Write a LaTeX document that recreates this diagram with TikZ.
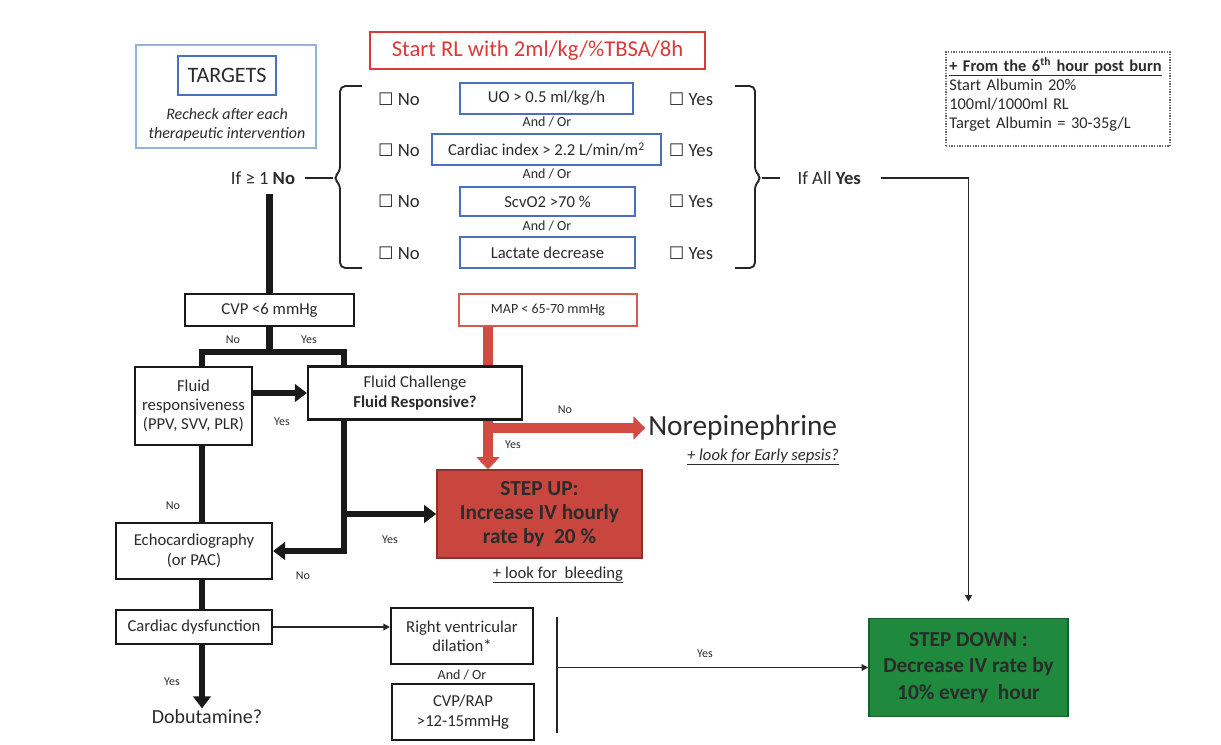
\documentclass[tikz,border=0pt]{standalone}
\usepackage{fontspec}
\setmainfont{Carlito}
\newfontfamily\symfont{DejaVu Sans}
\usetikzlibrary{arrows.meta,calc,positioning,backgrounds}
\definecolor{txtgray}{HTML}{2B2B2B}
\definecolor{startred}{HTML}{D93A3A}
\definecolor{mapred}{HTML}{D45A55}
\definecolor{flowred}{HTML}{D24B43}
\definecolor{upred}{HTML}{C9463F}
\definecolor{downgreen}{HTML}{1F8A3E}
\definecolor{tgtblue}{HTML}{4A6FBF}
\definecolor{tgtlight}{HTML}{93B3DA}
\newcommand{\fsz}[2]{\fontsize{#1}{#2}\selectfont}
\newcommand{\tickbox}{{\symfont\fsz{13}{15}☐}}

\begin{document}
\begin{tikzpicture}[x=0.75pt,y=-0.75pt,
  txt/.style={text=txtgray,font=\fsz{12.5}{14.5},align=center,inner sep=1pt},
  box/.style={txt,draw=black!90,line width=1.6pt,fill=white},
  tbox/.style={txt,draw=tgtblue,line width=1.4pt,fill=white},
  chk/.style={text=txtgray,font=\fsz{14}{16},inner sep=1pt},
  small/.style={text=txtgray,font=\fsz{9}{10},inner sep=1pt},
  andor/.style={text=txtgray,font=\fsz{10.5}{12},inner sep=0pt},
  fat/.style={line width=5pt,black!90},
  fatarrow/.style={fat,-{Triangle[length=9pt,width=13pt]}},
  redarrow/.style={line width=7pt,flowred,-{Triangle[length=9pt,width=17pt]}},
  thinarrow/.style={line width=1.2pt,black!85,-{Triangle[length=5pt,width=5pt]}},
  brc/.style={line width=1.4pt,black!85,rounded corners=4pt}]
  \useasboundingbox (0,0) rectangle (1221,744);

  \node[draw=startred,line width=1.3pt,text=startred,font=\fsz{17}{20},minimum width=251pt,minimum height=27.75pt,inner sep=1pt] (start) at (537.5,50.5) {Start RL with 2ml/kg/\%TBSA/8h};

  \node[draw=tgtlight,line width=1pt,minimum width=135pt,minimum height=77.25pt] (tgtframe) at (226,96.5) {};
  \node[tbox,font=\fsz{16.5}{18},minimum width=73.5pt,minimum height=29.25pt] (tgt) at (227,75.5) {TARGETS};
  \node[txt,font=\itshape\fsz{12}{14.25},below=8pt of tgt] (recheck) {Recheck after each\\therapeutic intervention};

  \node[txt,font=\fsz{14}{16}] (ifno) at (263,178) {If ≥ 1 \textbf{No}};
  \node[txt,font=\fsz{14}{16},anchor=west] (ifyes) at (796,178) {If All \textbf{Yes}};

  \node[tbox,minimum width=129.75pt,minimum height=23.25pt] (uo) at (546.5,98.5) {UO > 0.5 ml/kg/h};
  \node[tbox,minimum width=171.75pt,minimum height=23.25pt] (ci) at (546.5,149.5) {Cardiac index > 2.2 L/min/m\textsuperscript{2}};
  \node[tbox,minimum width=131.25pt,minimum height=21.75pt] (scv) at (547.5,201.5) {ScvO2 >70 \%};
  \node[tbox,minimum width=131.25pt,minimum height=23.25pt] (lac) at (547.5,252.5) {Lactate decrease};
  \node[andor] (ao1) at (547,122) {And / Or};
  \node[andor] (ao2) at (547,174) {And / Or};
  \node[andor] (ao3) at (547,226) {And / Or};
  \foreach \r/\y in {1/99,2/150,3/201,4/253} {
    \node[chk] (no\r) at (399,\y) {\tickbox\ No};
    \node[chk] (yes\r) at (691,\y) {\tickbox\ Yes};
  }

  \draw[brc] (362,86) -| (340,172) -- (333,178) -- (340,184) |- (362,268);
  \coordinate (lbtip) at (333,178);
  \draw[brc] ([xshift=6pt]ifno.east) -- (lbtip);
  \draw[brc] (735,86) -| (755,172) -- (762,178) -- (755,184) |- (735,268);
  \coordinate (rbtip) at (762,178);
  \draw[brc] (rbtip) -- ++(18,0);

  \node[draw=black!60,densely dotted,line width=1pt,txt,font=\fsz{12.3}{14.25},align=left,minimum width=168pt,minimum height=70.5pt,text width=163pt] (alb) at (1058,99) {\textbf{\underline{+ From the 6\textsuperscript{th} hour post burn}}\\Start Albumin 20\%\\100ml/1000ml RL\\Target Albumin = 30-35g/L\\[-5pt]\mbox{}};

  \node[box,minimum width=126.75pt,minimum height=24pt] (cvp) at (269.5,310) {CVP <6 mmHg};
  \node[txt,draw=mapred,line width=1.3pt,fill=white,font=\fsz{10.5}{12},minimum width=133.5pt,minimum height=24pt] (map) at (548,310) {MAP < 65-70 mmHg};
  \node[box,minimum width=87.75pt,minimum height=58.5pt] (fr) at (193.5,406) {Fluid\\responsiveness\\(PPV, SVV, PLR)};
  \node[box,minimum width=160.5pt,minimum height=39.75pt] (fc) at (415,393) {Fluid Challenge\\\textbf{Fluid Responsive?}};
  \node[txt,font=\fsz{22}{26},anchor=west,inner sep=0pt] (nor) at (648,428) {Norepinephrine};
  \node[txt,font=\itshape\fsz{12.5}{14}] (sepsis) at (763,457) {\underline{+ look for Early sepsis?}};
  \node[box,fill=upred,draw=upred!70!black,line width=1.2pt,font=\bfseries\fsz{16}{18},minimum width=153.75pt,minimum height=66pt] (up) at (539.5,514) {STEP UP:\\Increase IV hourly\\rate by~~20 \%};
  \node[txt] (bleed) at (558,575) {\underline{+ look for~~bleeding}};
  \node[box,minimum width=117pt,minimum height=42pt] (echo) at (194,551) {Echocardiography\\(or PAC)};
  \node[box,minimum width=117pt,minimum height=25.5pt] (cd) at (194,627) {Cardiac dysfunction};
  \node[txt,font=\fsz{15}{17}] (dobu) at (207,717) {Dobutamine?};
  \node[box,minimum width=106.5pt,minimum height=42pt] (rv) at (462,636) {Right ventricular\\dilation*};
  \node[andor] (ao4) at (462,675) {And / Or};
  \node[box,minimum width=106.5pt,minimum height=42pt] (rap) at (463,712) {CVP/RAP\\>12-15mmHg};
  \node[box,fill=downgreen,draw=downgreen!70!black,line width=1.2pt,font=\bfseries\fsz{16}{20},minimum width=149.25pt,minimum height=73.5pt] (down) at (968.5,667.5) {STEP DOWN :\\Decrease IV rate by\\10\% every~~hour};

  \coordinate (frx) at (202,0);
  \coordinate (fcx) at (344,0);
  \coordinate (rx) at (488,0);
  \draw[fat] ([yshift=-6pt]ifno.south -| cvp.north) -- (cvp.north);
  \draw[fat] (cvp.south) -- ++(0,25) coordinate (split);
  \draw[fat] (fr.north -| frx) |- (split) -| (fc.north -| fcx);
  \node[small] (lno1) at (233,340) {No};
  \node[small] (lyes1) at (309,340) {Yes};
  \draw[fatarrow] (fc.west -| fr.east) -- (fc.west);
  \node[small] (lyes2) at (282,422) {Yes};
  \draw[fatarrow] (fc.south -| fcx) |- (echo.east);
  \draw[fatarrow] (up.west -| fcx) -- (up.west);
  \node[small] (lyes3) at (390,540) {Yes};
  \node[small] (lno3) at (303,576) {No};
  \draw[fat] (fr.south -| frx) -- (echo.north -| frx);
  \node[small] (lno2) at (173,506) {No};
  \draw[fat] (echo.south -| frx) -- (cd.north -| frx);
  \draw[fatarrow] (cd.south -| frx) -- (dobu.north -| frx);
  \node[small] (lyes4) at (172,682) {Yes};

  \draw[thinarrow] (cd.east) -- (cd.east -| rv.west);
  \coordinate (bartop) at (557,617);
  \coordinate (barbot) at (557,733);
  \draw[line width=1.2pt,black!85] (bartop) -- (barbot);
  \draw[thinarrow] (down.west -| bartop) -- (down.west);
  \node[small] (lyes5) at (705,654) {Yes};
  \draw[thinarrow,shorten >=12pt] ([xshift=14pt]ifyes.east) -| (down.north);

  \begin{scope}[on background layer]
    \draw[redarrow] (map.south -| rx) -- (up.north -| rx);
    \draw[redarrow,shorten >=2pt] (nor.west -| rx) -- (nor.west);
  \end{scope}
  \node[small] (lno4) at (565,410) {No};
  \node[small] (lyes6) at (513,445) {Yes};
\end{tikzpicture}
\end{document}
